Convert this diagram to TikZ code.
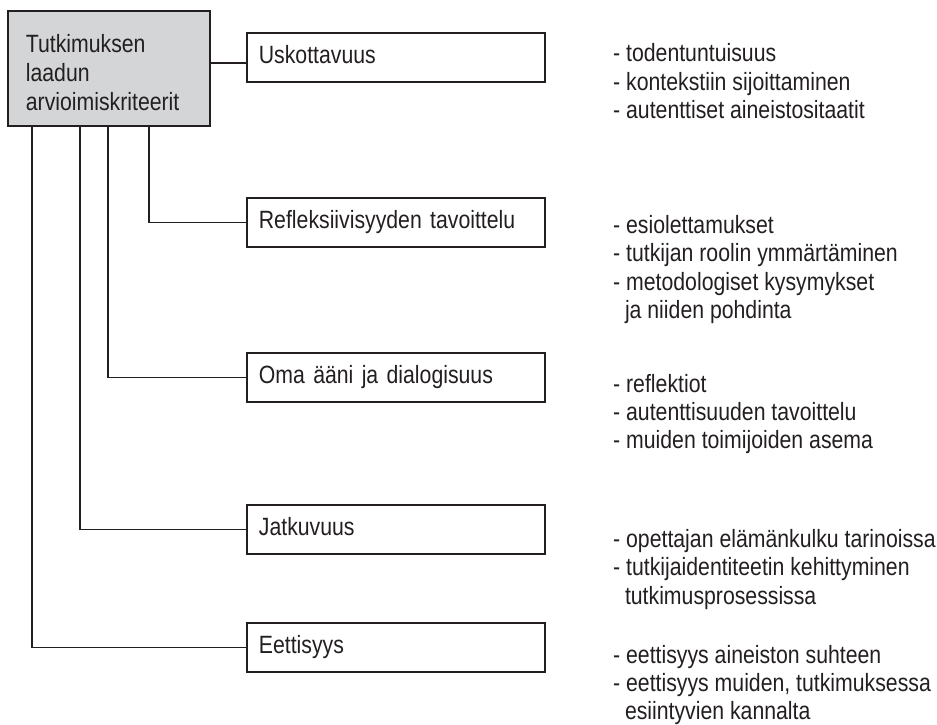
\documentclass[tikz,border=0pt]{standalone}
\usepackage{fontspec}
\setmainfont[FakeStretch=0.85]{Liberation Sans}
\usepackage{xcolor}
\usepackage{tikz}
\usetikzlibrary{calc}
\definecolor{ink}{HTML}{231F20}
\definecolor{boxgray}{HTML}{D4D5D7}
\tikzset{
  critBox/.style={draw=ink, fill=boxgray, line width=1.8pt, anchor=north west,
    minimum width=202pt, minimum height=115pt, text width=166pt,
    inner xsep=18pt, inner ysep=0pt, align=left, text=ink,
    font=\fontsize{25}{29}\selectfont},
  subBox/.style={draw=ink, line width=1.8pt, anchor=north west,
    minimum width=298pt, minimum height=49pt, text width=274pt,
    inner xsep=12pt, inner ysep=0pt, align=left, text=ink,
    text height=18pt, text depth=6pt, font=\fontsize{25}{28.4}\selectfont},
  listText/.style={anchor=north west, inner sep=0pt, align=left, text=ink,
    font=\fontsize{25}{28.4}\selectfont},
  linkLine/.style={draw=ink, line width=1.8pt}
}

\begin{document}
\begin{tikzpicture}[x=1pt, y=-1pt]
  \useasboundingbox (0,0) rectangle (937,724);

  \node[critBox] (crit) at (7,10)
    {\rule{0pt}{26pt}Tutkimuksen\\laadun\\arvioimiskriteerit};

  \node[subBox] (usko) at (246,32)  {Uskottavuus};
  \node[subBox] (refl) at (246,197) {Refleksiivisyyden tavoittelu};
  \node[subBox] (oma)  at (246,352) {Oma ääni ja dialogisuus};
  \node[subBox] (jatk) at (246,504) {Jatkuvuus};
  \node[subBox] (eett) at (246,622) {Eettisyys};

  \node[listText] (uskoList) at (613,41.8)
    {\strut- todentuntuisuus\\- kontekstiin sijoittaminen\\- autenttiset aineistositaatit};
  \node[listText] (reflList) at (613,213.5)
    {\strut- esiolettamukset\\- tutkijan roolin ymmärtäminen\\- metodologiset kysymykset\\\ \ ja niiden pohdinta};
  \node[listText] (omaList) at (613,372)
    {\strut- reflektiot\\- autenttisuuden tavoittelu\\- muiden toimijoiden asema};
  \node[listText] (jatkList) at (613,527.5)
    {\strut- opettajan elämänkulku tarinoissa\\- tutkijaidentiteetin kehittyminen\\\ \ tutkimusprosessissa};
  \node[listText] (eettList) at (613,643)
    {\strut- eettisyys aineiston suhteen\\- eettisyys muiden, tutkimuksessa\\\ \ esiintyvien kannalta};

  \coordinate (uskoIn) at ($(usko.west)+(0,5.5)$);
  \draw[linkLine] (crit.east |- uskoIn) -- (uskoIn);
  \draw[linkLine] ([xshift=142pt]crit.south west) |- (refl.west);
  \draw[linkLine] ([xshift=101pt]crit.south west) |- (oma.west);
  \draw[linkLine] ([xshift=73pt]crit.south west) |- (jatk.west);
  \draw[linkLine] ([xshift=25pt]crit.south west) |- (eett.west);
\end{tikzpicture}
\end{document}
